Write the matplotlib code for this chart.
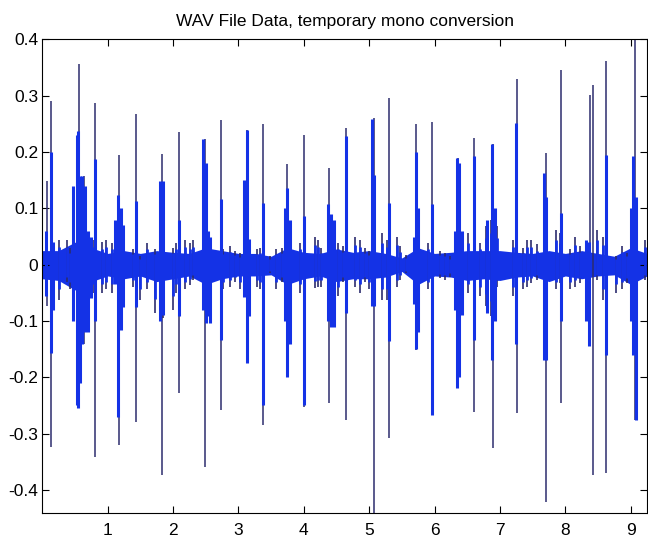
import numpy as np
import matplotlib.pyplot as plt

plt.rcParams['font.family'] = ['Liberation Sans', 'DejaVu Sans']

# Valores (tiempo en s, amplitud)
# picos finos (linea oscura)
spike_t = [0.07, 0.128, 0.56, 0.64, 0.80, 1.18, 1.43, 1.83, 2.09, 2.49, 2.73, 3.13,
           3.37, 3.75, 4.00, 4.39, 4.64, 5.07, 5.31, 5.72, 5.96, 6.36, 6.60, 6.90,
           7.26, 7.70, 7.94, 8.38, 8.42, 8.62, 9.06]
spike_hi = [0.148, 0.29, 0.356, 0.157, 0.287, 0.194, 0.268, 0.197, 0.236, 0.223, 0.257, 0.24,
            0.25, 0.178, 0.231, 0.172, 0.243, 0.261, 0.296, 0.25, 0.253, 0.19, 0.225, 0.215,
            0.329, 0.199, 0.345, 0.302, 0.32, 0.361, 0.40]
spike_lo = [-0.074, -0.323, -0.255, -0.14, -0.341, -0.32, -0.28, -0.373, -0.228, -0.359, -0.258, -0.175,
            -0.284, -0.199, -0.252, -0.246, -0.276, -0.441, -0.308, -0.151, -0.267, -0.219, -0.261, -0.326,
            -0.264, -0.421, -0.246, -0.145, -0.373, -0.37, -0.276]

# rafagas (zona azul gruesa)
burst_t = [0.06, 0.13, 0.16, 0.47, 0.53, 0.55, 0.58, 0.61, 0.65, 0.70, 0.75, 0.80,
           1.11, 1.16, 1.20, 1.24, 1.43, 1.80, 1.84, 2.09, 2.46, 2.50, 2.53, 2.56,
           2.73, 3.09, 3.13, 3.16, 3.37, 3.71, 3.75, 3.79, 4.00, 4.37, 4.41, 4.46,
           4.65, 5.05, 5.08, 5.31, 5.68, 5.72, 5.75, 5.96, 6.31, 6.35, 6.38, 6.42,
           6.60, 6.80, 6.88, 6.92, 7.25, 7.67, 7.70, 7.93, 8.32, 8.36, 8.62, 9.00,
           9.04, 9.08]
burst_hi = [0.06, 0.20, 0.04, 0.139, 0.23, 0.237, 0.157, 0.157, 0.139, 0.06, 0.05, 0.187,
            0.08, 0.124, 0.10, 0.07, 0.113, 0.148, 0.148, 0.08, 0.223, 0.18, 0.06, 0.05,
            0.116, 0.15, 0.24, 0.045, 0.11, 0.10, 0.136, 0.08, 0.086, 0.107, 0.09, 0.08,
            0.228, 0.258, 0.16, 0.11, 0.05, 0.20, 0.10, 0.107, 0.06, 0.19, 0.18, 0.06,
            0.193, 0.08, 0.215, 0.10, 0.252, 0.163, 0.12, 0.092, 0.044, 0.04, 0.194, 0.10,
            0.193, 0.12]
burst_lo = [-0.056, -0.157, -0.08, -0.10, -0.25, -0.255, -0.21, -0.14, -0.12, -0.12, -0.06, -0.10,
            -0.035, -0.27, -0.116, -0.075, -0.075, -0.10, -0.09, -0.092, -0.08, -0.104, -0.092, -0.104,
            -0.133, -0.057, -0.175, -0.092, -0.25, -0.10, -0.20, -0.14, -0.25, -0.10, -0.11, -0.11,
            -0.086, -0.074, -0.074, -0.136, -0.07, -0.15, -0.12, -0.267, -0.08, -0.219, -0.20, -0.09,
            -0.133, -0.085, -0.169, -0.10, -0.14, -0.17, -0.17, -0.10, -0.10, -0.145, -0.16, -0.10,
            -0.16, -0.276]

# pequenas oscilaciones
whisk_t = [0.25, 0.37, 0.42, 0.78, 0.91, 0.98, 1.06, 1.24, 1.39, 1.49, 1.60, 1.72,
           1.85, 2.00, 2.05, 2.18, 2.26, 2.31, 2.77, 2.87, 2.95, 3.02, 3.28, 3.33,
           3.48, 3.58, 3.66, 3.94, 4.17, 4.22, 4.27, 4.53, 4.60, 4.78, 4.86, 4.93,
           4.99, 5.19, 5.27, 5.42, 5.47, 5.57, 5.90, 6.08, 6.16, 6.23, 6.51, 6.69,
           6.79, 6.87, 6.95, 7.20, 7.36, 7.41, 7.48, 7.56, 7.86, 7.92, 8.07, 8.15,
           8.22, 8.48, 8.58, 8.78, 8.86, 8.94, 9.22]
whisk_hi = [0.044, 0.044, 0.03, 0.044, 0.041, 0.044, 0.039, 0.036, 0.027, 0.015, 0.039, 0.027,
            0.03, 0.03, 0.039, 0.044, 0.039, 0.044, 0.027, 0.033, 0.024, 0.02, 0.027, 0.03,
            0.015, 0.027, 0.03, 0.039, 0.05, 0.044, 0.03, 0.039, 0.033, 0.05, 0.044, 0.03,
            0.025, 0.056, 0.044, 0.05, 0.033, 0.018, 0.039, 0.024, 0.021, 0.015, 0.056, 0.039,
            0.068, 0.08, 0.068, 0.044, 0.03, 0.044, 0.044, 0.036, 0.062, 0.056, 0.027, 0.05,
            0.033, 0.062, 0.05, 0.015, 0.033, 0.021, 0.044]
whisk_lo = [-0.062, -0.03, -0.044, -0.05, -0.05, -0.044, -0.05, -0.062, -0.04, -0.062, -0.044, -0.086,
            -0.095, -0.08, -0.05, -0.044, -0.036, -0.027, -0.044, -0.039, -0.03, -0.044, -0.039, -0.044,
            -0.015, -0.044, -0.03, -0.05, -0.041, -0.039, -0.04, -0.056, -0.03, -0.039, -0.05, -0.03,
            -0.044, -0.062, -0.062, -0.039, -0.027, -0.015, -0.044, -0.024, -0.027, -0.021, -0.05, -0.056,
            -0.074, -0.092, -0.039, -0.056, -0.044, -0.039, -0.033, -0.027, -0.044, -0.033, -0.044, -0.039,
            -0.033, -0.027, -0.062, -0.05, -0.044, -0.033, -0.027]

# banda de ruido de fondo
band_t = [0.0, 0.25, 0.5, 0.75, 1.0, 1.25, 1.5, 1.75, 2.0, 2.25, 2.5, 2.75, 3.0,
          3.25, 3.5, 3.75, 4.0, 4.25, 4.5, 4.75, 5.0, 5.25, 5.5, 5.75, 6.0, 6.25,
          6.5, 6.75, 7.0, 7.25, 7.5, 7.75, 8.0, 8.25, 8.5, 8.75, 9.0, 9.25]
band_hi = [0.025, 0.025, 0.04, 0.03, 0.02, 0.025, 0.02, 0.025, 0.022, 0.02, 0.03, 0.025, 0.02,
           0.02, 0.015, 0.03, 0.022, 0.02, 0.028, 0.022, 0.025, 0.02, 0.012, 0.03, 0.02, 0.022,
           0.025, 0.025, 0.025, 0.022, 0.02, 0.025, 0.02, 0.025, 0.02, 0.015, 0.03, 0.02]
band_lo = [-0.025, -0.028, -0.045, -0.03, -0.02, -0.025, -0.02, -0.03, -0.025, -0.02, -0.035, -0.025, -0.02,
           -0.02, -0.018, -0.035, -0.025, -0.02, -0.03, -0.025, -0.025, -0.022, -0.012, -0.035, -0.02, -0.022,
           -0.028, -0.025, -0.028, -0.022, -0.02, -0.03, -0.02, -0.025, -0.02, -0.018, -0.035, -0.02]

blue = '#1432e6'
navy = '#2c2c6e'

fig = plt.figure(figsize=(6.48, 5.41), dpi=100)
ax = fig.add_axes([0.0653, 0.0518, 0.9332, 0.8752])

ax.fill_between(band_t, band_lo, band_hi, color=blue, lw=0)
ax.vlines(whisk_t, whisk_lo, whisk_hi, color=navy, lw=1.2)
ax.vlines(whisk_t, np.array(whisk_lo) * 0.7, np.array(whisk_hi) * 0.7, color=blue, lw=2.0)
ax.vlines(spike_t, spike_lo, spike_hi, color=navy, lw=1.1)
ax.vlines(burst_t, burst_lo, burst_hi, color=blue, lw=2.2)

ax.set_xlim(0, 9.25)
ax.set_ylim(-0.441, 0.40)
ax.set_xticks(range(1, 10))
yt = np.round(np.arange(-0.4, 0.41, 0.1), 1)
ax.set_yticks(yt)
ax.set_yticklabels(['0' if v == 0 else f'{v:g}' for v in yt])
ax.tick_params(direction='in', top=True, right=True, length=5, width=0.8,
               labelsize=12.5)
ax.tick_params(axis='y', pad=3)
ax.tick_params(axis='x', pad=7)
for s in ax.spines.values():
    s.set_linewidth(0.8)
ax.set_title('WAV File Data, temporary mono conversion', fontsize=12.5, pad=10)

plt.savefig('out.png', dpi=100)
